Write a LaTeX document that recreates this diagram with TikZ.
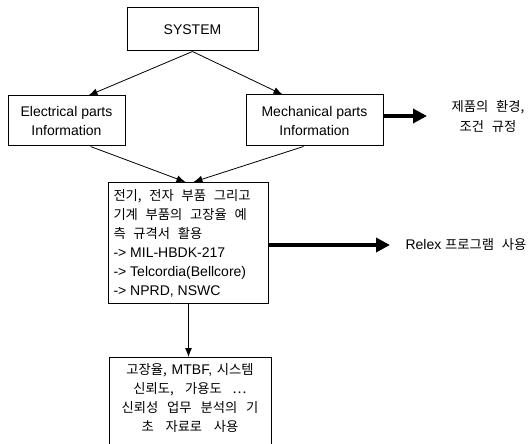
\documentclass[tikz,border=0pt]{standalone}
\usepackage{fontspec}
\setmainfont{Liberation Sans}
\newfontfamily\kr{Noto Sans CJK KR}[Scale=0.95,WordSpace=2.6]
\usetikzlibrary{arrows.meta,calc}

\begin{document}
\begin{tikzpicture}[x=1pt,y=-1pt,
  font=\fontsize{14}{19}\selectfont,
  block/.style={draw,line width=1pt,align=center,inner sep=4pt},
  kor/.style={font=\fontsize{14}{20}\selectfont\kr,align=center},
  flow/.style={-{Latex[length=9pt,width=7pt]},line width=0.8pt},
  bigflow/.style={-{Triangle[length=14pt,width=14pt]},line width=4pt}]
\useasboundingbox (0,0) rectangle (531,444);
\node[block,minimum width=131pt,minimum height=43pt] (sys) at (192.5,29.5) {SYSTEM};
\node[block,minimum width=117pt,minimum height=50pt] (elec) at (66.5,121) {Electrical parts\\Information};
\node[block,minimum width=137pt,minimum height=51pt] (mech) at (314.5,120.5) {Mechanical parts\\Information};
\node[kor] (env) at (488,116) {제품의 환경,\\조건 규정};
\coordinate (envtip) at (427,116);
\node[block,anchor=north west,text width=150pt,align=left,inner xsep=5pt,inner ysep=5pt,minimum height=121pt] (mid) at (108,182) {\spaceskip=0pt\relax
{\kr 전기, 전자 부품 그리고}\\
{\kr 기계 부품의 고장율 예}\\
{\kr 측 규격서 활용}\\
-> MIL-HBDK-217\\
-> Telcordia(Bellcore)\\
-> NPRD, NSWC};
\node[anchor=west] (relex) at (402,245) {Relex {\kr 프로그램 사용}};
\node[block,anchor=north,text width=154pt,inner ysep=6pt,text depth=85pt] (bot) at (190,357) {\spaceskip=0pt\relax
{\kr 고장율,} MTBF, {\kr 시스템}\\
{\kr 신뢰도, 가용도 ⋯}\\
{\kr 신뢰성 업무 분석의 기}\\
{\kr 초 자료로 사용}};
\draw[flow] (sys.south) -- ([xshift=22pt]elec.north);
\draw[flow] (sys.south) -- ([xshift=-32pt]mech.north);
\draw[flow] ([xshift=24pt]elec.south) -- ([xshift=-3pt]mid.north);
\draw[flow] ([xshift=-11pt]mech.south) -- ([xshift=5pt]mid.north);
\draw[flow] (mid.south) -- (mid.south |- bot.north);
\draw[bigflow] (mech.east |- envtip) -- (envtip);
\draw[bigflow] (mid.east |- relex.west) -- ([xshift=-12pt]relex.west);
\end{tikzpicture}
\end{document}
